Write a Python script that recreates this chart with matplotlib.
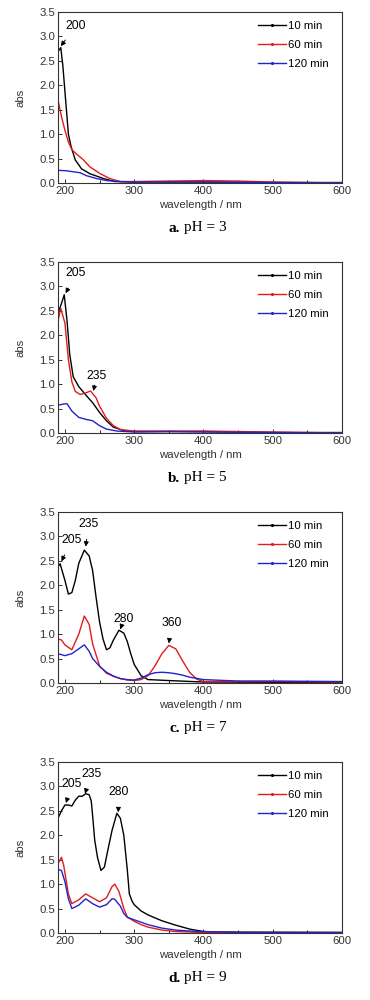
import matplotlib
matplotlib.use("Agg")
import matplotlib.pyplot as plt
from matplotlib.lines import Line2D

plt.rcParams['font.family'] = ['Liberation Sans Narrow', 'Liberation Sans', 'DejaVu Sans']

series_names = ["10 min", "60 min", "120 min"]
colors = ["#000000", "#e21b1b", "#2323c8"]

# ---- panel a (pH 3) ----
a_wl_10 = [190, 194, 197, 201, 205, 209, 215, 224, 236, 256, 272, 300, 400, 500, 600]
a_ab_10 = [2.69, 2.77, 2.40, 1.70, 1.00, 0.74, 0.47, 0.29, 0.19, 0.09, 0.03, 0.02, 0.02, 0.01, 0.01]
a_wl_60 = [190, 195, 200, 205, 210, 217, 227, 236, 251, 265, 280, 300, 350, 400, 450, 500, 600]
a_ab_60 = [1.70, 1.36, 1.08, 0.84, 0.68, 0.59, 0.47, 0.33, 0.19, 0.09, 0.03, 0.03, 0.04, 0.05, 0.04, 0.02, 0.00]
a_wl_120 = [190, 202, 222, 231, 246, 260, 280, 300, 400, 500, 600]
a_ab_120 = [0.26, 0.25, 0.21, 0.15, 0.09, 0.05, 0.03, 0.02, 0.02, 0.01, 0.00]

# ---- panel b (pH 5) ----
b_wl_10 = [190, 195, 199, 203, 207, 212, 220, 230, 240, 250, 260, 270, 285, 300, 400, 500, 600]
b_ab_10 = [2.45, 2.65, 2.83, 2.30, 1.60, 1.15, 0.95, 0.78, 0.62, 0.42, 0.25, 0.12, 0.05, 0.03, 0.03, 0.01, 0.01]
b_wl_60 = [190, 194, 200, 205, 210, 215, 222, 230, 237, 245, 250, 260, 270, 280, 300, 350, 400, 500, 600]
b_ab_60 = [2.30, 2.55, 2.25, 1.50, 1.05, 0.85, 0.79, 0.82, 0.86, 0.72, 0.55, 0.30, 0.15, 0.07, 0.04, 0.04, 0.04, 0.02, 0.00]
b_wl_120 = [190, 197, 203, 210, 220, 230, 240, 250, 260, 275, 300, 350, 400, 600]
b_ab_120 = [0.57, 0.59, 0.60, 0.45, 0.32, 0.28, 0.25, 0.15, 0.08, 0.04, 0.02, 0.03, 0.02, 0.00]

# ---- panel c (pH 7) ----
c_wl_10 = [190, 193, 200, 205, 210, 215, 220, 228, 235, 240, 245, 250, 255, 260, 265, 270, 278,
           285, 290, 295, 300, 310, 320, 350, 400, 600]
c_ab_10 = [2.38, 2.44, 2.10, 1.82, 1.85, 2.10, 2.45, 2.72, 2.60, 2.30, 1.75, 1.25, 0.90, 0.68, 0.72,
           0.88, 1.08, 1.02, 0.85, 0.60, 0.38, 0.15, 0.07, 0.05, 0.02, 0.01]
c_wl_60 = [190, 195, 200, 210, 220, 228, 235, 240, 250, 260, 270, 280, 290, 300, 310, 320, 330,
           340, 350, 360, 370, 380, 390, 400, 450, 500, 600]
c_ab_60 = [0.90, 0.88, 0.78, 0.68, 1.00, 1.37, 1.20, 0.80, 0.35, 0.20, 0.14, 0.09, 0.06, 0.05, 0.07,
           0.15, 0.35, 0.60, 0.77, 0.70, 0.45, 0.22, 0.08, 0.03, 0.03, 0.03, 0.02]
c_wl_120 = [190, 200, 210, 220, 228, 235, 240, 250, 260, 270, 280, 290, 300, 310, 320, 330, 340,
            350, 360, 370, 380, 400, 450, 500, 600]
c_ab_120 = [0.60, 0.56, 0.60, 0.70, 0.78, 0.65, 0.50, 0.34, 0.22, 0.14, 0.09, 0.07, 0.06, 0.10, 0.17,
            0.21, 0.22, 0.21, 0.19, 0.16, 0.12, 0.07, 0.04, 0.04, 0.03]

# ---- panel d (pH 9) ----
d_wl_10 = [190, 195, 200, 205, 210, 215, 220, 225, 230, 235, 238, 240, 243, 247, 252, 257, 262, 268,
           275, 280, 285, 290, 293, 297, 300, 310, 320, 340, 360, 380, 400, 420, 600]
d_ab_10 = [2.35, 2.50, 2.62, 2.62, 2.60, 2.72, 2.80, 2.80, 2.85, 2.83, 2.70, 2.40, 1.90, 1.55, 1.28,
           1.35, 1.70, 2.10, 2.45, 2.35, 2.00, 1.30, 0.80, 0.65, 0.58, 0.45, 0.37, 0.25, 0.16, 0.08,
           0.03, 0.02, 0.01]
d_wl_60 = [190, 195, 198, 205, 210, 220, 230, 240, 250, 260, 268, 272, 278, 285, 290, 300, 310, 320,
           340, 360, 400, 600]
d_ab_60 = [1.42, 1.55, 1.40, 0.80, 0.60, 0.68, 0.80, 0.72, 0.64, 0.72, 0.95, 1.00, 0.85, 0.50, 0.33,
           0.24, 0.17, 0.12, 0.06, 0.03, 0.01, 0.01]
d_wl_120 = [190, 195, 200, 205, 210, 220, 230, 240, 250, 260, 268, 272, 280, 285, 290, 300, 310, 320,
            340, 360, 380, 400, 450, 600]
d_ab_120 = [1.30, 1.28, 1.05, 0.70, 0.50, 0.57, 0.70, 0.60, 0.53, 0.58, 0.70, 0.69, 0.55, 0.40, 0.32,
            0.27, 0.22, 0.17, 0.10, 0.06, 0.04, 0.03, 0.01, 0.01]

panel_letters = ["a.", "b.", "c.", "d."]
panel_ph = ["pH = 3", "pH = 5", "pH = 7", "pH = 9"]

panels = [
    [(a_wl_10, a_ab_10), (a_wl_60, a_ab_60), (a_wl_120, a_ab_120)],
    [(b_wl_10, b_ab_10), (b_wl_60, b_ab_60), (b_wl_120, b_ab_120)],
    [(c_wl_10, c_ab_10), (c_wl_60, c_ab_60), (c_wl_120, c_ab_120)],
    [(d_wl_10, d_ab_10), (d_wl_60, d_ab_60), (d_wl_120, d_ab_120)],
]

# annotations: (label, text position (nm, abs), arrow tip (nm, abs))
annotations = [
    [("200", (216, 3.22), (194, 2.80))],
    [("205", (216, 3.27), (201, 2.86)), ("235", (246, 1.16), (241, 0.86))],
    [("205", (210, 2.93), (195, 2.49)), ("235", (234, 3.26), (230, 2.79)),
     ("280", (285, 1.30), (280, 1.10)), ("360", (354, 1.22), (350, 0.81))],
    [("205", (210, 3.05), (201.5, 2.66)), ("235", (238, 3.26), (229, 2.85)),
     ("280", (278, 2.88), (277, 2.47))],
]

fig = plt.figure(figsize=(3.7, 10), dpi=100)
ax_left, ax_w, ax_h = 58 / 370, 284 / 370, 0.171
bottoms = [0.817, 0.567, 0.317, 0.067]
caption_y = [0.772, 0.522, 0.272, 0.022]
fs = 8.2

for i in range(4):
    ax = fig.add_axes([ax_left, bottoms[i], ax_w, ax_h])
    for (wl, ab), c in zip(panels[i], colors):
        ax.plot(wl, ab, color=c, lw=1.0)
    ax.set_xlim(190, 600)
    ax.set_ylim(0, 3.5)
    ax.set_xticks([200, 300, 400, 500, 600])
    ax.set_xticks([250, 350, 450, 550], minor=True)
    ax.set_yticks([0, 0.5, 1.0, 1.5, 2.0, 2.5, 3.0, 3.5])
    ax.set_yticklabels(["0.0", "0.5", "1.0", "1.5", "2.0", "2.5", "3.0", "3.5"])
    ax.tick_params(direction='in', labelsize=fs, length=3, width=0.7, colors='#333333', pad=2)
    ax.tick_params(which='minor', direction='in', length=2, width=0.6)
    for s in ax.spines.values():
        s.set_linewidth(0.8)
        s.set_color('#333333')
    ax.set_xlabel("wavelength / nm", fontsize=fs, labelpad=3, color='#333333')
    ax.set_ylabel("abs", fontsize=fs, labelpad=10, color='#333333')
    for lab, txy, tip in annotations[i]:
        ax.annotate(lab, xy=tip, xytext=txy, fontsize=fs + 0.5, ha='center', va='center',
                    arrowprops=dict(arrowstyle='-|>', color='black', lw=0.7,
                                    mutation_scale=7, shrinkA=5, shrinkB=0))
    handles = [Line2D([0], [0], color=c, lw=1.0, marker='.', markersize=2.5) for c in colors]
    ax.legend(handles, series_names, loc='upper right', frameon=False, fontsize=fs,
              handlelength=2.5, handletextpad=0.2, labelspacing=0.78,
              borderaxespad=0.0, bbox_to_anchor=(0.97, 0.975))
    fig.text(0.487, caption_y[i], panel_letters[i], fontsize=11, fontweight='bold',
             family='Liberation Serif', ha='right', va='center')
    fig.text(0.497, caption_y[i], panel_ph[i], fontsize=11,
             family='Liberation Serif', ha='left', va='center')

fig.savefig("out.png", dpi=100)
